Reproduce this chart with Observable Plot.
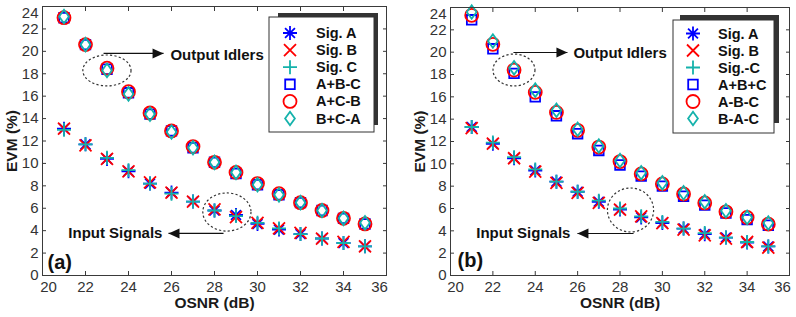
<!DOCTYPE html>
<html><head><meta charset="utf-8">
<script src="https://cdn.jsdelivr.net/npm/d3@7"></script>
<script src="https://cdn.jsdelivr.net/npm/@observablehq/plot@0.6"></script>
<style>
html,body{margin:0;padding:0;background:#fff;}
#wrap{display:flex;width:796px;height:317px;overflow:hidden;}
</style></head><body><div id="wrap"></div>
<script>
// ---------- data ----------
const osnr = [21,22,23,24,25,26,27,28,29,30,31,32,33,34,35];
const xTicks = [20,22,24,26,28,30,32,34,36];
const yTicks = [0,2,4,6,8,10,12,14,16,18,20,22,24];

// panel (a)
const aSigA = [13.1,11.7,10.4,9.3,8.2,7.4,6.6,5.8,5.4,4.6,4.1,3.7,3.3,2.9,2.6];
const aSigB = [13.1,11.6,10.4,9.3,8.3,7.4,6.6,5.9,5.2,4.7,4.2,3.8,3.3,3.0,2.6];
const aSigC = [13.0,11.7,10.5,9.4,8.2,7.3,6.6,5.8,5.3,4.7,4.2,3.7,3.3,2.9,2.6];
const aIdl1 = [23.0,20.6,18.4,16.3,14.4,12.9,11.4,10.1,9.1,8.1,7.2,6.5,5.8,5.1,4.6];
const aIdl2 = [23.0,20.6,18.5,16.4,14.5,12.9,11.5,10.1,9.2,8.2,7.3,6.5,5.8,5.1,4.6];
const aIdl3 = [23.1,20.6,18.3,16.2,14.4,12.8,11.4,10.1,9.2,8.1,7.2,6.5,5.8,5.1,4.7];
const aLabels = ["Sig. A","Sig. B","Sig. C","A+B-C","A+C-B","B+C-A"];

// panel (b)
const bSigA = [13.3,11.8,10.5,9.4,8.4,7.5,6.6,5.9,5.2,4.7,4.2,3.7,3.4,2.95,2.6];
const bSigB = [13.2,11.8,10.5,9.3,8.3,7.4,6.5,5.9,5.3,4.7,4.1,3.6,3.3,3.0,2.5];
const bSigC = [13.3,11.9,10.6,9.5,8.4,7.5,6.7,6.0,5.3,4.8,4.2,3.8,3.4,3.0,2.6];
const bIdl1 = [22.9,20.3,18.1,16.0,14.3,12.7,11.2,9.9,8.9,8.0,7.1,6.3,5.6,5.0,4.5];
const bIdl2 = [23.3,20.7,18.4,16.4,14.6,13.0,11.5,10.2,9.1,8.2,7.3,6.5,5.7,5.2,4.6];
const bIdl3 = [23.6,21.0,18.6,16.6,14.8,13.1,11.6,10.3,9.2,8.3,7.4,6.6,5.8,5.2,4.7];
const bLabels = ["Sig. A","Sig. B","Sig.-C","A+B+C","A-B-C","B-A-C"];

// annotations (data coordinates)
const aEllipses = [{x:23.02,y:18.25,rx:1.12,ry:1.38},{x:28.6,y:5.62,rx:1.12,ry:1.7}];
const aArrows = [{x1:22.84,y1:19.81,x2:25.63,y2:19.81},{x1:28.42,y1:3.75,x2:25.86,y2:3.75}];
const aNotesRight = [{x:25.95,y:19.63,text:"Output Idlers"}];
const aNotesLeft = [{x:25.58,y:3.75,text:"Input Signals"}];
const bEllipses = [{x:23.02,y:18.36,rx:0.99,ry:1.43},{x:28.52,y:5.82,rx:1.09,ry:1.97}];
const bArrows = [{x1:22.97,y1:19.97,x2:25.52,y2:19.97},{x1:28.64,y1:3.76,x2:25.99,y2:3.76}];
const bNotesRight = [{x:25.8,y:19.88,text:"Output Idlers"}];
const bNotesLeft = [{x:25.66,y:3.76,text:"Input Signals"}];

// ---------- styles ----------
const FONT = "'Liberation Sans', Arial, Helvetica, sans-serif";
const BLUE = "#0000ff", RED = "#ff0000", CYAN = "#14b2ab";
const sym = {
  asterisk: {draw(c, size){const s=Math.sqrt(size/Math.PI), d=s*Math.SQRT1_2;
    c.moveTo(-s,0);c.lineTo(s,0);c.moveTo(0,-s);c.lineTo(0,s);
    c.moveTo(-d,-d);c.lineTo(d,d);c.moveTo(-d,d);c.lineTo(d,-d);}},
  times: {draw(c, size){const s=Math.sqrt(size/Math.PI);
    c.moveTo(-s,-s);c.lineTo(s,s);c.moveTo(-s,s);c.lineTo(s,-s);}},
  plus: {draw(c, size){const s=Math.sqrt(size/Math.PI);
    c.moveTo(-s,0);c.lineTo(s,0);c.moveTo(0,-s);c.lineTo(0,s);}},
  square: {draw(c, size){const s=Math.sqrt(size/Math.PI); c.rect(-s,-s,2*s,2*s);}},
  circle: {draw(c, size){const s=Math.sqrt(size/Math.PI); c.moveTo(s,0); c.arc(0,0,s,0,2*Math.PI);}},
  diamond: {draw(c, size){const s=Math.sqrt(size/Math.PI), w=s*0.72;
    c.moveTo(0,-s);c.lineTo(w,0);c.lineTo(0,s);c.lineTo(-w,0);c.closePath();}},
  head: {draw(c, size){const s=Math.sqrt(size/Math.PI);
    c.moveTo(0,0);c.lineTo(-2.2*s,-s);c.lineTo(-2.2*s,s);c.closePath();}}
};
const styleSpec = [
  {symbol: sym.asterisk, color: BLUE, r: 7},
  {symbol: sym.times, color: RED, r: 6},
  {symbol: sym.plus, color: CYAN, r: 7},
  {symbol: sym.square, color: BLUE, r: 4.8},
  {symbol: sym.circle, color: RED, r: 6.5},
  {symbol: sym.diamond, color: CYAN, r: 6.8}
];

function ellipseMark(list) {
  return (index, scales) => {
    const g = d3.create("svg:g");
    for (const e of list) {
      const cx = scales.x(e.x), cy = scales.y(e.y);
      const rx = Math.abs(scales.x(e.x + e.rx) - cx), ry = Math.abs(scales.y(e.y + e.ry) - cy);
      g.append("ellipse").attr("cx", cx).attr("cy", cy).attr("rx", rx).attr("ry", ry)
        .attr("fill", "none").attr("stroke", "#333").attr("stroke-width", 1.2)
        .attr("stroke-dasharray", "2.2,2.2");
    }
    return g.node();
  };
}

function legendMark(labels, L) {
  return () => {
    const g = d3.create("svg:g");
    g.append("rect").attr("x", L.sx).attr("y", L.sy).attr("width", L.sw).attr("height", L.sh).attr("fill", "#333");
    g.append("rect").attr("x", L.bx).attr("y", L.by).attr("width", L.bw).attr("height", L.bh)
      .attr("fill", "#fff").attr("stroke", "#333").attr("stroke-width", 1);
    labels.forEach((lab, i) => {
      const st = styleSpec[i], y = L.row0 + i * L.step;
      g.append("path").attr("d", d3.symbol(st.symbol, Math.PI * st.r * st.r)())
        .attr("transform", `translate(${L.symX},${y})`)
        .attr("fill", "none").attr("stroke", st.color).attr("stroke-width", 1.8);
      g.append("text").attr("x", L.textX).attr("y", y).attr("dy", "0.35em")
        .attr("text-anchor", "start")
        .attr("font-weight", "bold").attr("font-size", 14.5).attr("fill", "#111").text(lab);
    });
    return g.node();
  };
}

const axisText = {label: null, fontSize: 15, fill: "#333", tickSize: 0};

function panel(cfg) {
  const series = cfg.series.map((vals, k) => ({rows: osnr.map((x, i) => ({x, y: vals[i]})), st: styleSpec[k]}));
  const innerX = xTicks.slice(1, -1), innerY = yTicks.slice(0, -1);
  return Plot.plot({
    width: cfg.width, height: 317,
    marginLeft: cfg.ml, marginRight: cfg.mr, marginTop: cfg.mt, marginBottom: 42,
    x: {domain: [20, 36]},
    y: {domain: [0, 24]},
    style: {fontFamily: FONT, fontSize: "15px", color: "#333", background: "#fff", overflow: "visible"},
    marks: [
      ellipseMark(cfg.ellipses),
      Plot.link(cfg.arrows, {x1: "x1", y1: "y1", x2: "x2", y2: "y2", stroke: "#111", strokeWidth: 1.2}),
      Plot.dot(cfg.arrows, {x: "x2", y: "y2", symbol: sym.head, r: 5, fill: "#111", stroke: "none",
        rotate: d => d.x2 > d.x1 ? 0 : 180}),
      ...series.map(s => Plot.dot(s.rows, {x: "x", y: "y", symbol: s.st.symbol, r: s.st.r,
        stroke: s.st.color, fill: "none", strokeWidth: 1.8})),
      Plot.text(cfg.notesRight, {x: "x", y: "y", text: "text", textAnchor: "start", fontWeight: "bold",
        fontSize: 15, fill: "#111"}),
      Plot.text(cfg.notesLeft, {x: "x", y: "y", text: "text", textAnchor: "end", fontWeight: "bold",
        fontSize: 15, fill: "#111"}),
      Plot.text([cfg.tag], {text: d => d, frameAnchor: "bottom-left", dx: cfg.tagDx, dy: cfg.tagDy,
        textAnchor: "start", lineAnchor: "middle", fontWeight: "bold", fontSize: 20, fill: "#111"}),
      legendMark(cfg.labels, cfg.legend),
      Plot.frame({stroke: "#3a3a3a", strokeWidth: 1}),
      Plot.axisX(xTicks, {anchor: "bottom", tickSize: 4, dy: -4, tickFormat: () => "", label: null, stroke: "#3a3a3a"}),
      Plot.axisX(xTicks, {anchor: "top", tickSize: 4, dy: 4, tickFormat: () => "", label: null, stroke: "#3a3a3a"}),
      Plot.axisY(yTicks, {anchor: "left", tickSize: 4, dx: 4, tickFormat: () => "", label: null, stroke: "#3a3a3a"}),
      Plot.axisY(yTicks, {anchor: "right", tickSize: 4, dx: -4, tickFormat: () => "", label: null, stroke: "#3a3a3a"}),
      Plot.axisX(innerX, {anchor: "bottom", tickPadding: 6, ...axisText}),
      Plot.axisX([xTicks[0]], {anchor: "bottom", tickPadding: 6, dx: cfg.firstDx, ...axisText}),
      Plot.axisX([xTicks[xTicks.length - 1]], {anchor: "bottom", tickPadding: 6, dx: cfg.lastDx, ...axisText}),
      Plot.axisY(innerY, {anchor: "left", tickPadding: 4, ...axisText}),
      Plot.axisY([yTicks[yTicks.length - 1]], {anchor: "left", tickPadding: 4, dy: 7, ...axisText}),
      Plot.text(["OSNR (dB)"], {text: d => d, frameAnchor: "bottom", dy: 28, lineAnchor: "middle",
        fontWeight: "bold", fontSize: 15.5, fill: "#1a1a1a"}),
      Plot.text(["EVM (%)"], {text: d => d, frameAnchor: "left", dx: -30, rotate: -90, textAnchor: "middle",
        lineAnchor: "middle", fontWeight: "bold", fontSize: 15.5, fill: "#1a1a1a"})
    ]
  });
}

const wrap = document.getElementById("wrap");
wrap.append(panel({
  width: 400, ml: 42, mr: 14, mt: 6, firstDx: 6, lastDx: -7,
  series: [aSigA, aSigB, aSigC, aIdl1, aIdl2, aIdl3], labels: aLabels,
  ellipses: aEllipses, arrows: aArrows, notesRight: aNotesRight, notesLeft: aNotesLeft,
  tag: "(a)", tagDx: 5, tagDy: -13,
  legend: {sx: 278, sy: 13, sw: 100, sh: 112, bx: 269, by: 17, bw: 105, bh: 115,
    symX: 290, textX: 316, row0: 33, step: 17.1}
}));
wrap.append(panel({
  width: 396, ml: 50, mr: 7, mt: 7, firstDx: 5, lastDx: -7,
  series: [bSigA, bSigB, bSigC, bIdl1, bIdl2, bIdl3], labels: bLabels,
  ellipses: bEllipses, arrows: bArrows, notesRight: bNotesRight, notesLeft: bNotesLeft,
  tag: "(b)", tagDx: 7, tagDy: -15,
  legend: {sx: 280, sy: 15, sw: 99, sh: 108, bx: 273, by: 20, bw: 101, bh: 113,
    symX: 293, textX: 318, row0: 33.5, step: 17}
}));
</script></body></html>
